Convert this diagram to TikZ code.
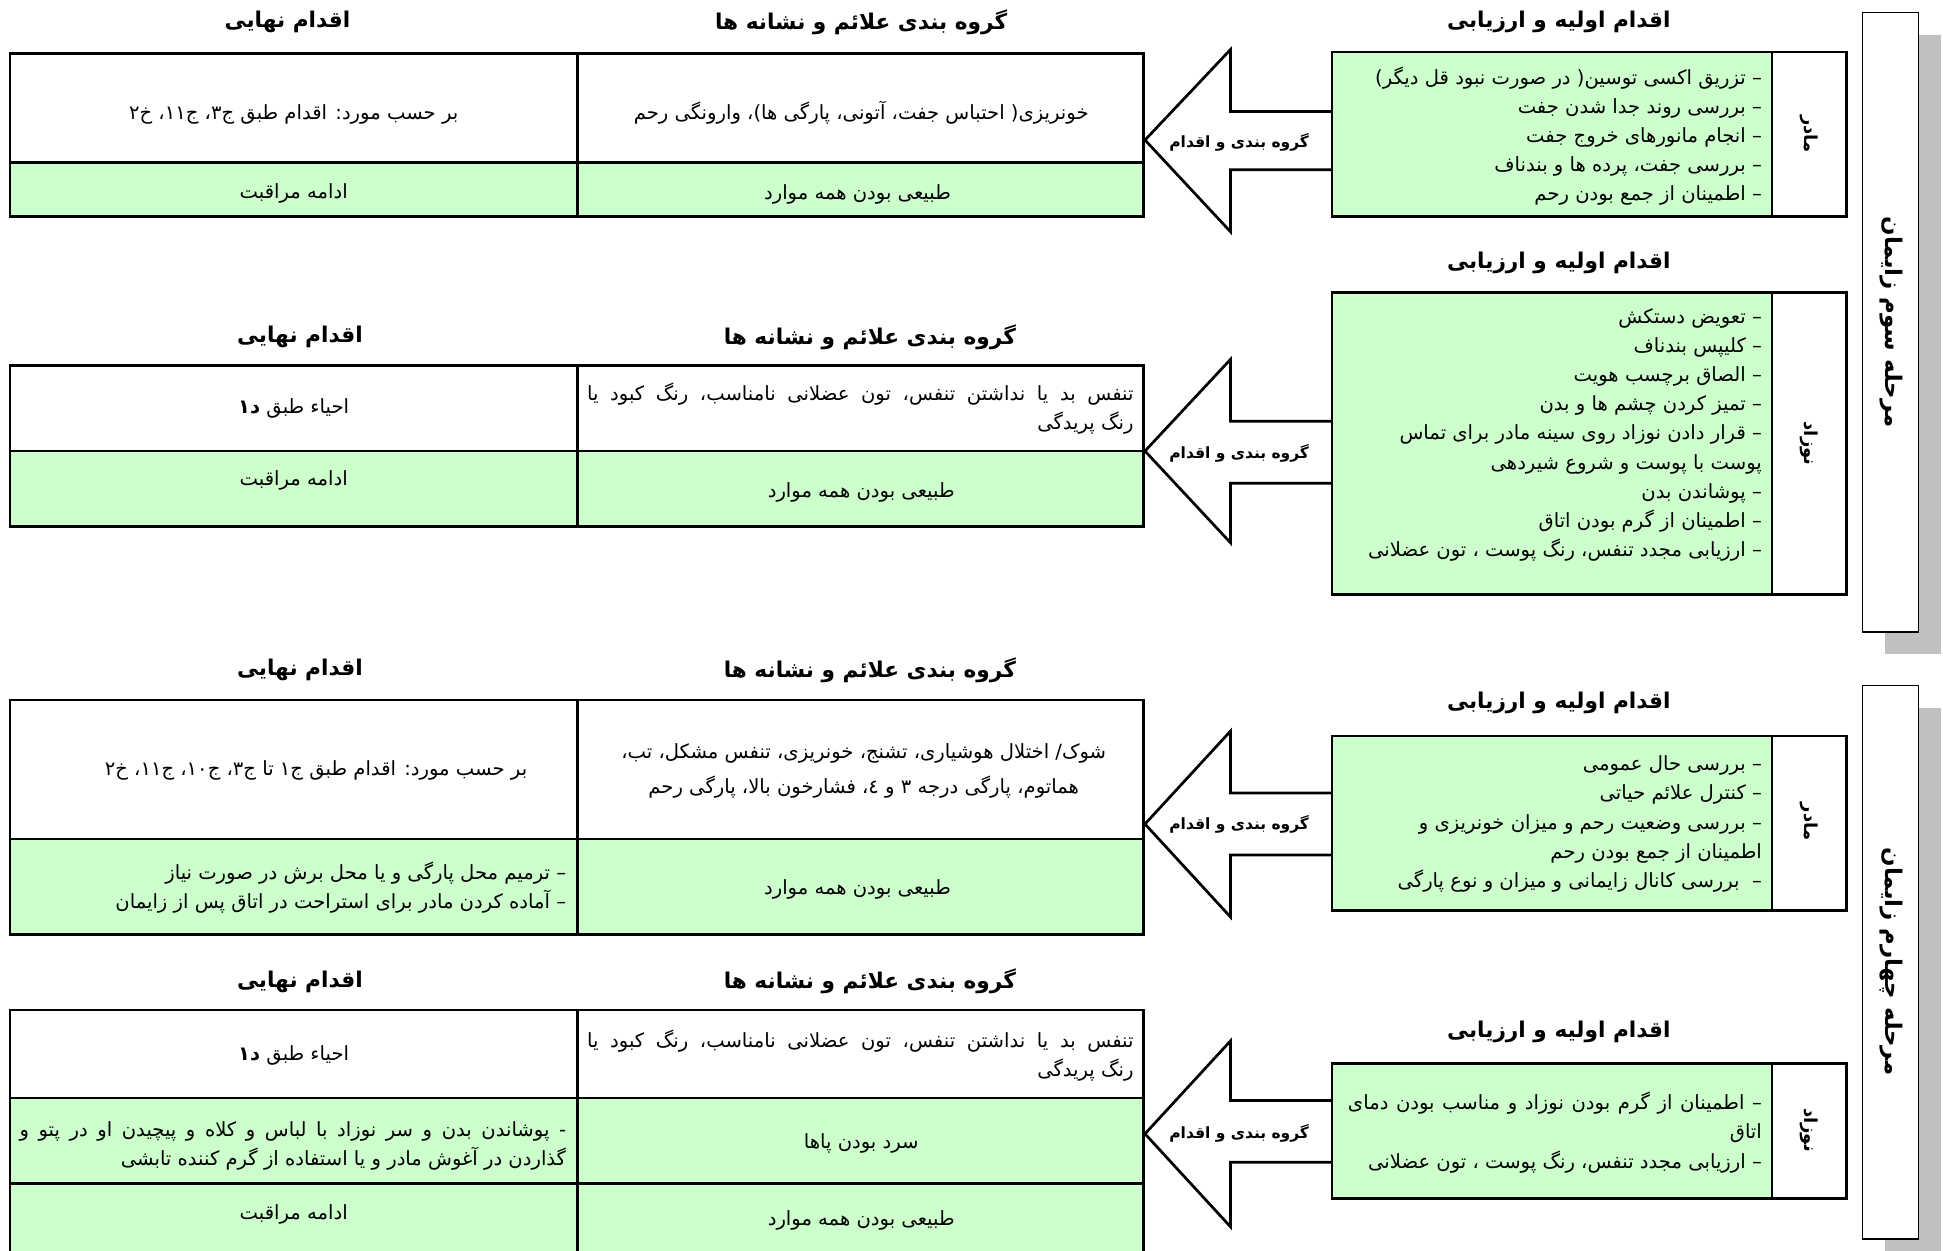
\documentclass[tikz,border=0pt]{standalone}
\usepackage{fontspec}
\newfontfamily\fa[Script=Arabic]{DejaVu Sans}
\TeXXeTstate=1
\definecolor{lgreen}{HTML}{CCFFCC}
\definecolor{shgray}{HTML}{C0C0C0}
\tikzset{
  frame/.style={draw=black, line width=2.2pt, fill=white},
  gframe/.style={draw=black, line width=2.2pt, fill=lgreen},
  bigarrow/.style={draw=black, line width=2.2pt, fill=white, line join=miter},
  sidebox/.style={draw=black, line width=1.2pt, fill=white},
  txt/.style={font=\fa\fontsize{15.8}{23.5}\selectfont, inner sep=0pt},
  txtwide/.style={font=\fa\fontsize{15.8}{28}\selectfont, inner sep=0pt},
  head/.style={font=\fa\bfseries\fontsize{17.5}{20}\selectfont, inner sep=0pt},
  albl/.style={font=\fa\bfseries\fontsize{12.5}{14}\selectfont, inner sep=0pt},
  vlbl/.style={font=\fa\bfseries\fontsize{14.5}{16}\selectfont, inner sep=0pt, rotate=-90},
  stitle/.style={font=\fa\bfseries\fontsize{18.5}{20}\selectfont, inner sep=0pt, rotate=-90}
}
\begin{document}
\begin{tikzpicture}[x=1pt, y=-1pt]
\useasboundingbox (0,0) rectangle (1568,1009);
\fill[white] (0,0) rectangle (1568,1009);

% ---------- side boxes ----------
\fill[shgray] (1521,28) rectangle (1566,528);
\draw[sidebox] (1503,10) rectangle (1548,510);
\node[stitle] (s3) at (1526,260) {\beginR مرحله سوم زایمان\endR};
\fill[shgray] (1521,571) rectangle (1566,1018);
\draw[sidebox] (1503,553) rectangle (1548,1000);
\node[stitle] (s4) at (1526,776) {\beginR مرحله چهارم زایمان\endR};

% ================= Section 1 =================
\node[head] (h1a) at (232,18) {\beginR اقدام نهایی\endR};
\node[head] (h1b) at (695,18) {\beginR گروه بندی علائم و نشانه ها\endR};
\node[head] (h1c) at (1258,18) {\beginR اقدام اولیه و ارزیابی\endR};

\draw[bigarrow] (1075,90) -- (993,90) -- (993,40) -- (924,113) -- (993,187) -- (993,137) -- (1075,137);
\node[albl] (ar1) at (1000,115) {\beginR گروه بندی و اقدام\endR};

\draw[gframe] (1075,42) rectangle (1430,175);
\draw[frame] (1430,42) rectangle (1490,175);
\node[vlbl] (l1) at (1460,108) {\beginR مادر\endR};
\node[txt, anchor=east, align=right] (a1) at (1422,110) {%
\beginR – تزریق اکسی توسین( در صورت نبود قل دیگر)\endR\\
\beginR – بررسی روند جدا شدن جفت\endR\\
\beginR – انجام مانورهای خروج جفت\endR\\
\beginR – بررسی جفت، پرده ها و بندناف\endR\\
\beginR – اطمینان از جمع بودن رحم\endR};

\draw[frame] (466,43) rectangle (923,131);
\draw[gframe] (466,131) rectangle (923,175);
\draw[frame] (8,43) rectangle (466,131);
\draw[gframe] (8,131) rectangle (466,175);
\node[txt] (m1a) at (695,91) {\beginR خونریزی( احتباس جفت، آتونی، پارگی ها)، وارونگی رحم\endR};
\node[txt] (m1b) at (692,157) {\beginR طبیعی بودن همه موارد\endR};
\node[txt] (f1a) at (237,92) {\beginR بر حسب مورد: اقدام طبق ج۳، ج۱۱، خ۲\endR};
\node[txt] (f1b) at (237,156) {\beginR ادامه مراقبت\endR};

% ================= Section 2 =================
\node[head] (h2c) at (1258,212) {\beginR اقدام اولیه و ارزیابی\endR};
\node[head] (h2a) at (242,272) {\beginR اقدام نهایی\endR};
\node[head] (h2b) at (702,272) {\beginR گروه بندی علائم و نشانه ها\endR};

\draw[bigarrow] (1075,340) -- (993,340) -- (993,290) -- (924,364) -- (993,438) -- (993,390) -- (1075,390);
\node[albl] (ar2) at (1000,366) {\beginR گروه بندی و اقدام\endR};

\draw[gframe] (1075,236) rectangle (1430,480);
\draw[frame] (1430,236) rectangle (1490,480);
\node[vlbl] (l2) at (1460,358) {\beginR نوزاد\endR};
\node[txt, anchor=east, align=right] (a2) at (1422,351) {%
\beginR – تعویض دستکش\endR\\
\beginR – کلیپس بندناف\endR\\
\beginR – الصاق برچسب هویت\endR\\
\beginR – تمیز کردن چشم ها و بدن\endR\\
\beginR – قرار دادن نوزاد روی سینه مادر برای تماس\endR\\
\beginR پوست با پوست و شروع شیردهی\endR\\
\beginR – پوشاندن بدن\endR\\
\beginR – اطمینان از گرم بودن اتاق\endR\\
\beginR – ارزیابی مجدد تنفس، رنگ پوست ، تون عضلانی\endR};

\draw[frame] (466,295) rectangle (923,364);
\draw[gframe] (466,364) rectangle (923,425);
\draw[frame] (8,295) rectangle (466,364);
\draw[gframe] (8,364) rectangle (466,425);
\node[txt, anchor=east, align=right] (m2a) at (915,330) {%
\hbox to 441pt{\beginR تنفس بد یا نداشتن تنفس، تون عضلانی نامناسب، رنگ کبود یا\endR}\\
\beginR رنگ پریدگی\endR};
\node[txt] (m2b) at (695,397) {\beginR طبیعی بودن همه موارد\endR};
\node[txt] (f2a) at (237,330) {\beginR احیاء طبق {\bfseries د۱}\endR};
\node[txt] (f2b) at (237,388) {\beginR ادامه مراقبت\endR};

% ================= Section 3 =================
\node[head] (h3a) at (242,541) {\beginR اقدام نهایی\endR};
\node[head] (h3b) at (702,541) {\beginR گروه بندی علائم و نشانه ها\endR};
\node[head] (h3c) at (1258,567) {\beginR اقدام اولیه و ارزیابی\endR};

\draw[bigarrow] (1075,640) -- (993,640) -- (993,590) -- (924,665) -- (993,740) -- (993,690) -- (1075,690);
\node[albl] (ar3) at (1000,665) {\beginR گروه بندی و اقدام\endR};

\draw[gframe] (1075,594) rectangle (1430,735);
\draw[frame] (1430,594) rectangle (1490,735);
\node[vlbl] (l3) at (1460,663) {\beginR مادر\endR};
\node[txt, anchor=east, align=right] (a3) at (1422,665) {%
\beginR – بررسی حال عمومی\endR\\
\beginR – کنترل علائم حیاتی\endR\\
\beginR – بررسی وضعیت رحم و میزان خونریزی و\endR\\
\beginR اطمینان از جمع بودن رحم\endR\\
\beginR –\ \ بررسی کانال زایمانی و میزان و نوع پارگی\endR};

\draw[frame] (466,565) rectangle (923,677);
\draw[gframe] (466,677) rectangle (923,754);
\draw[frame] (8,565) rectangle (466,677);
\draw[gframe] (8,677) rectangle (466,754);
\node[txtwide, align=center] (m3a) at (697,622) {%
\beginR شوک/ اختلال هوشیاری، تشنج، خونریزی، تنفس مشکل، تب،\endR\\
\beginR هماتوم، پارگی درجه ۳ و ٤، فشارخون بالا، پارگی رحم\endR};
\node[txt] (m3b) at (692,718) {\beginR طبیعی بودن همه موارد\endR};
\node[txt] (f3a) at (255,622) {\beginR بر حسب مورد: اقدام طبق ج۱ تا ج۳، ج۱۰، ج۱۱، خ۲\endR};
\node[txt, anchor=east, align=right] (f3b) at (457,716) {%
\beginR – ترمیم محل پارگی و یا محل برش در صورت نیاز\endR\\
\beginR – آماده کردن مادر برای استراحت در اتاق پس از زایمان\endR};

% ================= Section 4 =================
\node[head] (h4a) at (242,792) {\beginR اقدام نهایی\endR};
\node[head] (h4b) at (702,792) {\beginR گروه بندی علائم و نشانه ها\endR};
\node[head] (h4c) at (1258,833) {\beginR اقدام اولیه و ارزیابی\endR};

\draw[bigarrow] (1075,888) -- (993,888) -- (993,840) -- (924,915) -- (993,990) -- (993,938) -- (1075,938);
\node[albl] (ar4) at (1000,915) {\beginR گروه بندی و اقدام\endR};

\draw[gframe] (1075,858) rectangle (1430,967);
\draw[frame] (1430,858) rectangle (1490,967);
\node[vlbl] (l4) at (1460,912) {\beginR نوزاد\endR};
\node[txt, anchor=east, align=right] (a4) at (1422,914) {%
\hbox to 334pt{\beginR – اطمینان از گرم بودن نوزاد و مناسب بودن دمای\endR}\\
\beginR اتاق\endR\\
\beginR – ارزیابی مجدد تنفس، رنگ پوست ، تون عضلانی\endR};

\draw[frame] (466,815) rectangle (923,886);
\draw[gframe] (466,886) rectangle (923,955);
\draw[gframe] (466,955) rectangle (923,1030);
\draw[frame] (8,815) rectangle (466,886);
\draw[gframe] (8,886) rectangle (466,955);
\draw[gframe] (8,955) rectangle (466,1030);
\node[txt, anchor=east, align=right] (m4a) at (915,852) {%
\hbox to 441pt{\beginR تنفس بد یا نداشتن تنفس، تون عضلانی نامناسب، رنگ کبود یا\endR}\\
\beginR رنگ پریدگی\endR};
\node[txt] (m4b) at (695,923) {\beginR سرد بودن پاها\endR};
\node[txt] (m4c) at (695,985) {\beginR طبیعی بودن همه موارد\endR};
\node[txt] (f4a) at (237,852) {\beginR احیاء طبق {\bfseries د۱}\endR};
\node[txt, anchor=east, align=right] (f4b) at (457,925) {%
\hbox to 441pt{\beginR - پوشاندن بدن و سر نوزاد با لباس و کلاه و پیچیدن او در پتو و\endR}\\
\beginR گذاردن در آغوش مادر و یا استفاده از گرم کننده تابشی\endR};
\node[txt] (f4c) at (237,980) {\beginR ادامه مراقبت\endR};
\end{tikzpicture}
\end{document}
